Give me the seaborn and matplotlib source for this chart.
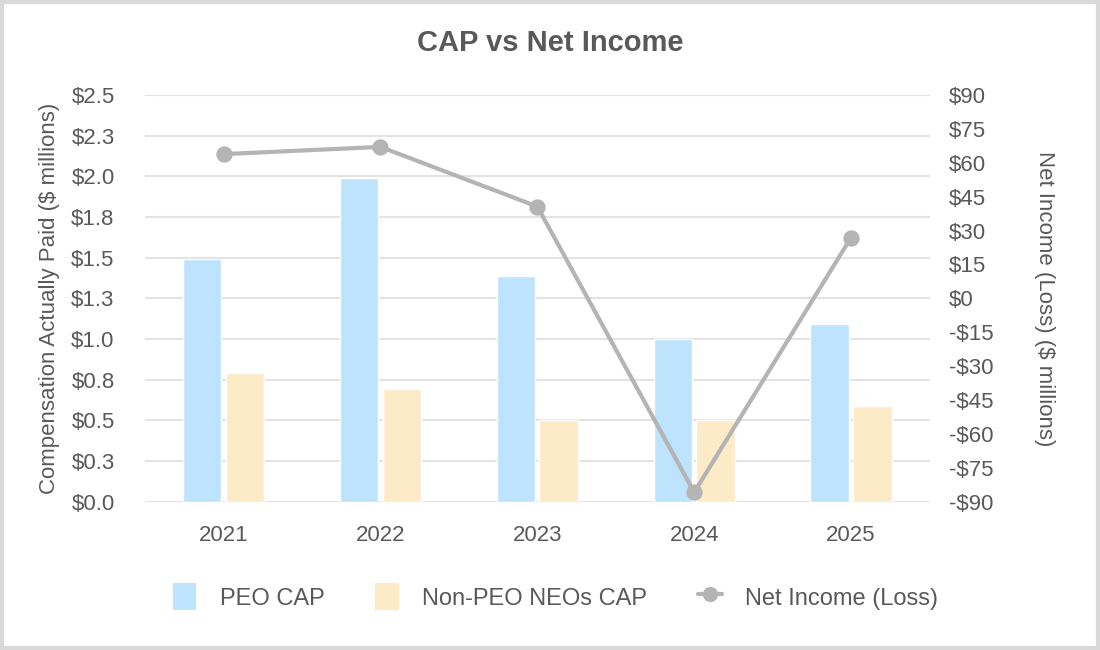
import numpy as np
import pandas as pd
import matplotlib
matplotlib.use('Agg')
import matplotlib.pyplot as plt
import seaborn as sns
from matplotlib.patches import Patch, Rectangle
from matplotlib.lines import Line2D

# data
years = ['2021', '2022', '2023', '2024', '2025']
peo_cap = [1.49, 1.99, 1.39, 1.00, 1.09]
non_peo_cap = [0.79, 0.69, 0.50, 0.50, 0.59]
net_income = [63.8, 67.0, 40.6, -85.8, 26.9]

left_ticks = [0, 0.25, 0.5, 0.75, 1.0, 1.25, 1.5, 1.75, 2.0, 2.25, 2.5]
left_labels = ['$0.0', '$0.3', '$0.5', '$0.8', '$1.0', '$1.3', '$1.5', '$1.8', '$2.0', '$2.3', '$2.5']
right_ticks = [90, 75, 60, 45, 30, 15, 0, -15, -30, -45, -60, -75, -90]
right_labels = ['$90', '$75', '$60', '$45', '$30', '$15', '$0', '-$15', '-$30', '-$45', '-$60', '-$75', '-$90']

series_names = ['PEO CAP', 'Non-PEO NEOs CAP', 'Net Income (Loss)']
blue = '#bde3fd'
orange = '#fdeac6'
gray = '#b4b4b4'
text_c = '#595959'

sns.set_style('white')
plt.rcParams['font.family'] = ['Liberation Sans', 'DejaVu Sans']

df = pd.DataFrame({
    'year': years * 2,
    'series': [series_names[0]] * len(years) + [series_names[1]] * len(years),
    'value': peo_cap + non_peo_cap,
})

fig = plt.figure(figsize=(11, 6.5), dpi=100)
ax = fig.add_axes([0.132, 0.228, 0.713, 0.626])

sns.barplot(data=df, x='year', y='value', hue='series', palette=[blue, orange],
            width=0.545, gap=0.1, saturation=1, ax=ax, legend=False, zorder=2)

ax.set_ylim(0, 2.5)
ax.set_yticks(left_ticks)
ax.set_yticklabels(left_labels)
ax.set_xlim(-0.5, 4.5)
ax.grid(axis='y', color='#e3e3e3', linewidth=1.5, zorder=0)
ax.set_axisbelow(True)
for s in ax.spines.values():
    s.set_visible(False)
ax.tick_params(axis='both', length=0, labelsize=16, labelcolor=text_c)
ax.tick_params(axis='x', pad=17)
ax.tick_params(axis='y', pad=22)
ax.set_xlabel('')
ax.set_ylabel('Compensation Actually Paid ($ millions)', fontsize=16, color=text_c, labelpad=8)

# net income on the right axis
ax2 = ax.twinx()
sns.pointplot(x=years, y=net_income, color=gray, errorbar=None, ax=ax2,
              markers='o', markersize=9.5, linewidth=3)
ax2.set_ylim(-90, 90)
ax2.set_yticks(right_ticks)
ax2.set_yticklabels(right_labels)
ax2.set_xlim(-0.5, 4.5)
for s in ax2.spines.values():
    s.set_visible(False)
ax2.tick_params(axis='y', length=0, labelsize=16, labelcolor=text_c, pad=14)
ax2.set_ylabel('Net Income (Loss) ($ millions)', fontsize=16, color=text_c,
               rotation=270, labelpad=44)

fig.suptitle('CAP vs Net Income', fontsize=21, fontweight='bold', color=text_c, y=0.955)

handles = [
    Patch(facecolor=blue, edgecolor='none'),
    Patch(facecolor=orange, edgecolor='none'),
    Line2D([], [], color=gray, linewidth=3, marker='o', markersize=10),
]
fig.legend(handles, series_names, loc='center', bbox_to_anchor=(0.505, 0.082), ncol=3,
           frameon=False, fontsize=17, labelcolor=text_c, handlelength=1.0,
           handleheight=1.4, columnspacing=2.15, handletextpad=1.0)

fig.patches.append(Rectangle((0.002, 0.003), 0.996, 0.994, transform=fig.transFigure,
                             fill=False, edgecolor='#d9d9d9', linewidth=3))

fig.savefig('out.png', dpi=100)
